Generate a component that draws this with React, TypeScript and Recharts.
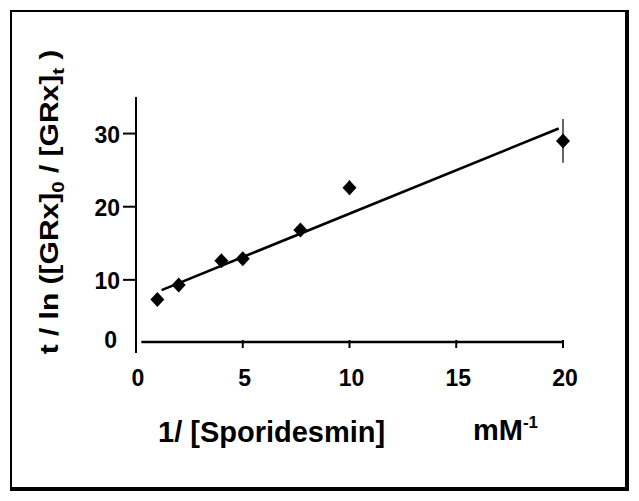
import { ComposedChart, Scatter, Line, XAxis, YAxis, ErrorBar, ReferenceLine } from 'recharts';

// measured points (1/[Sporidesmin] vs t / ln ratio)
const X_VALUES = [1, 2, 4, 5, 7.7, 10, 20];
const Y_VALUES = [7.3, 9.3, 12.6, 12.9, 16.8, 22.6, 29.0];
const Y_ERRORS = [0.3, 0.4, 0.4, 0.4, 0.4, 1.0, 3.0];

// fitted line end points
const FIT_X = [1.2, 19.8];
const FIT_Y = [8.6, 30.7];

const X_TICKS = [0, 5, 10, 15, 20];
const Y_TICKS = [0, 10, 20, 30];

const FONT = '"Liberation Sans", Arial, sans-serif';

const points = X_VALUES.map((x, i) => ({ x, y: Y_VALUES[i], err: Y_ERRORS[i] }));
const fit = FIT_X.map((x, i) => ({ x, y: FIT_Y[i] }));

const Diamond = (props: any) => {
  const { cx, cy } = props;
  if (cx == null || cy == null) return null;
  const w = 7;
  const h = 7.5;
  return <polygon points={`${cx},${cy - h} ${cx + w},${cy} ${cx},${cy + h} ${cx - w},${cy}`} fill="#000" />;
};

const XTick = (props: any) => {
  const { x, y, payload } = props;
  return (
    <g>
      {payload.value !== 0 && <line x1={x} x2={x} y1={y - 13} y2={y - 5} stroke="#000" strokeWidth={2} />}
      <text x={x + 2} y={y + 25} textAnchor="middle" dominantBaseline="central"
        fontFamily={FONT} fontWeight="bold" fontSize={23} fill="#000">
        {payload.value}
      </text>
    </g>
  );
};

const YTick = (props: any) => {
  const { x, y, payload } = props;
  if (payload.value === 0) {
    // Prism puts the zero label up against the offset x axis
    return (
      <text x={x - 19} y={y - 13} textAnchor="end" dominantBaseline="central"
        fontFamily={FONT} fontWeight="bold" fontSize={23} fill="#000">0</text>
    );
  }
  return (
    <g>
      <line x1={x - 13} x2={x} y1={y} y2={y} stroke="#000" strokeWidth={2} />
      <text x={x - 16} y={y + 1} textAnchor="end" dominantBaseline="central"
        fontFamily={FONT} fontWeight="bold" fontSize={23} fill="#000">
        {payload.value}
      </text>
    </g>
  );
};

const XLabel = (props: any) => {
  const { x, y } = props.viewBox;
  return (
    <g fontFamily={FONT} fontWeight="bold" fill="#000">
      <text x={x + 22} y={y + 89} fontSize={29}>1/ [Sporidesmin]</text>
      <text x={x + 337} y={y + 87} fontSize={29}>
        mM<tspan dy={-12} fontSize={17}>-1</tspan>
      </text>
    </g>
  );
};

const YLabel = (props: any) => {
  const { y } = props.viewBox;
  const cx = 58;
  const cy = y + 105;
  // the scanned original is stretched along the label direction
  return (
    <text x={0} y={0} textAnchor="middle" transform={`translate(${cx}, ${cy}) rotate(-90) scale(1.2, 1)`}
      fontFamily={FONT} fontWeight="bold" fontSize={25} fill="#000">
      t / ln ([GRx]<tspan dy={6} fontSize={17}>0</tspan>
      <tspan dy={-6}> / [GRx]</tspan>
      <tspan dy={6} fontSize={17}>t</tspan>
      <tspan dy={-6}> )</tspan>
    </text>
  );
};

export default function App() {
  return (
    <div style={{ position: 'absolute', left: 0, top: 0, width: 639, height: 501, background: '#fff' }}>
      {/* outer frame */}
      <div style={{
        position: 'absolute', left: 10, top: 10, width: 619, height: 481, boxSizing: 'border-box',
        borderStyle: 'solid', borderColor: '#000', borderWidth: '2px 4px 4px 2px',
      }} />
      <div style={{ position: 'absolute', left: 0, top: 0 }}>
        <ComposedChart width={639} height={501} margin={{ top: 97, right: 76, bottom: 0, left: 0 }}>
          <XAxis
            type="number"
            dataKey="x"
            domain={[0, 20]}
            ticks={X_TICKS}
            interval={0}
            height={148}
            axisLine={false}
            tickLine={false}
            tickSize={0}
            tickMargin={0}
            tick={<XTick />}
            label={<XLabel />}
          />
          <YAxis
            type="number"
            domain={[0, 35]}
            ticks={Y_TICKS}
            interval={0}
            width={136}
            axisLine={{ stroke: '#000', strokeWidth: 2 }}
            tickLine={false}
            tickSize={0}
            tickMargin={0}
            tick={<YTick />}
            label={<YLabel />}
          />
          {/* offset x axis line, as drawn in the original */}
          <ReferenceLine
            segment={[{ x: 0.25, y: 1.5 }, { x: 20, y: 1.5 }]}
            stroke="#000"
            strokeWidth={2.5}
            ifOverflow="visible"
          />
          <Line
            data={fit}
            dataKey="y"
            type="linear"
            stroke="#000"
            strokeWidth={2.6}
            dot={false}
            activeDot={false}
            isAnimationActive={false}
          />
          <Scatter data={points} dataKey="y" shape={<Diamond />} isAnimationActive={false}>
            <ErrorBar dataKey="err" direction="y" width={0} stroke="#333" strokeWidth={1.5} isAnimationActive={false} />
          </Scatter>
        </ComposedChart>
      </div>
    </div>
  );
}
